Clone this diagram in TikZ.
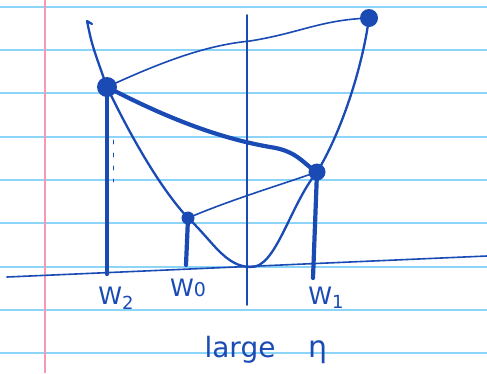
\documentclass[tikz,border=0pt]{standalone}
\usepackage{fontspec}
\setmainfont{DejaVu Sans}
\begin{document}
\begin{tikzpicture}[x=1pt,y=-1pt,
  ink/.style={draw=inkblue,line cap=round,line join=round},
  thin/.style={ink,line width=1.6pt},
  mid/.style={ink,line width=2.3pt},
  heavy/.style={ink,line width=4.2pt},
  dotnode/.style={circle,fill=inkblue,inner sep=0pt,minimum size=#1},
  lbl/.style={text=inkblue,font=\fontsize{24}{26}\selectfont,inner sep=0pt},
  ruling/.style={draw=rulecol,line width=1.5pt},
]
\definecolor{inkblue}{HTML}{1A4BB4}
\definecolor{rulecol}{HTML}{8CD4F8}
\definecolor{margincol}{HTML}{F59AB2}
\useasboundingbox (0,0) rectangle (487,373);
\fill[white] (0,0) rectangle (487,373);
% paper rulings
\foreach \yy in {7,50,93,137,180,223,267,310,353}
  \draw[ruling] (0,\yy) -- (487,\yy);
\draw[draw=margincol,line width=1.4pt] (45,0) -- (45,373);
% coordinates
\coordinate (axL) at (7,277);
\coordinate (axR) at (487,256);
\coordinate (vT) at (247,15);
\coordinate (vB) at (247,305);
\coordinate (top) at (87,21);
\coordinate (hook) at (92,24);
\coordinate (bot) at (251,267);
\coordinate (w2f) at (107,274);
\coordinate (w0f) at (186,265);
\coordinate (w1f) at (313,278);
% dots
\node[dotnode=20pt] (w2) at (107,87) {};
\node[dotnode=17pt] (w1) at (317,172) {};
\node[dotnode=18pt] (tr) at (369,18) {};
\node[dotnode=13pt] (w0) at (188,218) {};
% axes
\draw[thin] (axL) -- (axR);
\draw[thin] (vT) -- (vB);
% curve
\draw[mid] (hook) -- (top) .. controls (92,45) .. (w2.center)
  .. controls (130,135) and (160,188) .. (w0.center)
  .. controls (212,240) and (225,267) .. (bot)
  .. controls (276,268) and (290,205) .. (w1.center)
  .. controls (340,135) and (362,70) .. (tr.center);
% chords
\draw[thin] (w2.center) .. controls (170,58) and (210,45) .. (250,41)
  .. controls (300,33) and (320,20) .. (tr.center);
\draw[heavy] (w2.center) .. controls (180,125) and (230,140) .. (270,147)
  .. controls (298,151) and (303,164) .. (w1.center);
\draw[thin] (w0.center) .. controls (230,200) and (280,185) .. (w1.center);
% stems
\draw[heavy] (w2.center) -- (w2f);
\draw[heavy] (w0.center) -- (w0f);
\draw[heavy] (w1.center) -- (w1f);
\draw[ink,line width=0.8pt,dash pattern=on 4pt off 9pt] (113,140) -- (113,182);
% labels
\node[lbl] (l2) at (116,298) {W\raisebox{-0.4ex}{\fontsize{18}{18}\selectfont 2}};
\node[lbl] (l0) at (188,288) {W\fontsize{19}{19}\selectfont 0};
\node[lbl] (l1) at (326,298) {W\raisebox{-0.3ex}{\fontsize{18}{18}\selectfont 1}};
\node[lbl,anchor=base,font=\fontsize{28}{28}\selectfont] (large) at (240,357) {large};
\node[lbl,anchor=base,font=\fontsize{30}{30}\selectfont] (eta) at (318,357) {η};
\end{tikzpicture}
\end{document}
